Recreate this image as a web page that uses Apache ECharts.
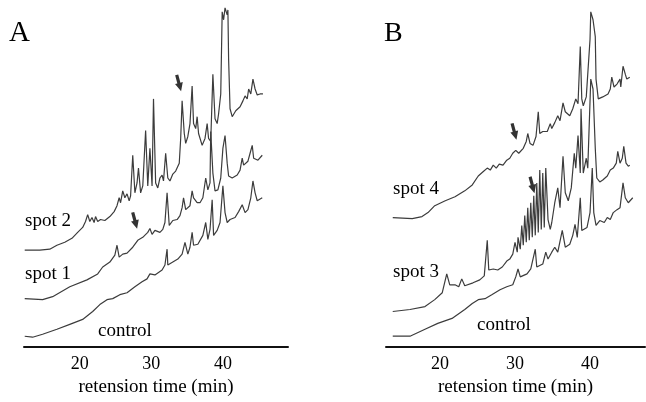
<!DOCTYPE html>
<html lang="en">

<head>
    <meta charset="UTF-8">
    <title>retension time</title>
    <script src="https://cdn.jsdelivr.net/npm/echarts@6/dist/echarts.min.js"></script>
</head>

<body style="margin:0;background:#fff;">
    <div id="main" style="width: 646px;height:402px;"></div>
    <script type="text/javascript">
        // [retention time (min), signal height]
        // panel A
        var spot2A = [[12.3, 98], [14.4, 98], [15.8, 99], [16.8, 103], [17.9, 106], [18.9, 110], [19.7, 116], [20.4, 121], [20.8, 127], [21.1, 134], [21.4, 127], [21.7, 131], [22.0, 126], [22.2, 132], [22.5, 127], [22.9, 129], [23.5, 128], [24.2, 132], [24.8, 137], [25.2, 143], [25.5, 151], [25.7, 146], [26.0, 158], [26.3, 151], [26.6, 155], [26.9, 148], [27.1, 153], [27.4, 194], [27.7, 156], [28.0, 166], [28.2, 181], [28.5, 156], [28.8, 163], [29.2, 219], [29.5, 163], [29.8, 201], [30.1, 163], [30.3, 251], [30.6, 166], [30.9, 161], [31.2, 171], [31.5, 174], [31.7, 168], [32.0, 196], [32.3, 171], [32.6, 168], [33.0, 175], [33.4, 178], [33.9, 186], [34.1, 211], [34.3, 249], [34.6, 216], [34.8, 206], [35.1, 213], [35.4, 226], [35.7, 264], [35.9, 226], [36.2, 221], [36.4, 233], [36.6, 216], [37.1, 204], [37.5, 211], [37.8, 226], [38.0, 211], [38.3, 208], [38.6, 276], [38.9, 231], [39.2, 226], [39.4, 236], [39.7, 256], [39.9, 339], [40.1, 331], [40.3, 343], [40.6, 336], [40.7, 341], [40.8, 291], [41.0, 241], [41.3, 233], [41.8, 239], [42.4, 243], [42.8, 249], [43.1, 254], [43.4, 251], [43.6, 261], [43.9, 256], [44.2, 271], [44.5, 261], [44.8, 255], [45.2, 256], [45.6, 256]];
        var spot1A = [[12.3, 49], [14.8, 48], [16.2, 51], [18.6, 61], [21.0, 68], [22.5, 74], [23.2, 81], [24.2, 86], [24.9, 93], [25.2, 103], [25.5, 91], [26.0, 94], [26.6, 95], [27.4, 101], [28.1, 108], [28.8, 111], [29.5, 116], [29.8, 120], [30.1, 114], [30.5, 118], [31.2, 116], [31.6, 119], [31.9, 126], [32.2, 156], [32.5, 123], [33.0, 128], [33.6, 129], [34.0, 133], [34.3, 141], [34.5, 151], [34.8, 139], [35.4, 143], [35.7, 158], [35.9, 151], [36.4, 146], [36.8, 146], [37.2, 151], [37.6, 171], [37.9, 159], [38.2, 166], [38.3, 218], [38.6, 176], [38.9, 158], [39.3, 159], [39.7, 171], [40.0, 201], [40.3, 214], [40.6, 186], [40.8, 173], [41.3, 171], [42.0, 174], [42.4, 179], [42.7, 191], [42.9, 184], [43.5, 188], [43.8, 196], [44.1, 204], [44.3, 191], [44.9, 189], [45.5, 194]];
        var controlA = [[12.3, 11], [13.4, 10], [14.8, 13], [16.8, 18], [18.6, 23], [20.4, 28], [21.8, 36], [22.8, 43], [23.8, 48], [24.6, 49], [25.6, 53], [26.6, 55], [27.7, 61], [28.7, 66], [29.4, 69], [29.8, 74], [30.5, 73], [31.5, 78], [31.9, 83], [32.2, 99], [32.3, 83], [33.0, 86], [33.7, 89], [34.3, 94], [34.7, 106], [35.1, 94], [35.4, 101], [35.7, 116], [35.9, 103], [36.5, 104], [37.2, 113], [37.6, 126], [37.9, 109], [38.2, 119], [38.5, 149], [38.7, 113], [39.2, 118], [39.6, 126], [40.0, 163], [40.3, 136], [40.6, 126], [41.0, 129], [41.7, 131], [42.2, 137], [42.7, 144], [43.1, 136], [43.5, 139], [43.9, 151], [44.2, 168], [44.5, 156], [44.8, 148], [45.5, 151]];
        // panel B
        var spot4B = [[13.7, 131], [16.3, 130], [17.6, 132], [18.4, 136], [19.3, 143], [20.7, 148], [22.0, 152], [23.3, 158], [24.3, 164], [25.1, 173], [25.7, 177], [26.3, 181], [26.7, 179], [27.1, 184], [27.5, 181], [27.9, 185], [28.4, 184], [28.9, 189], [29.3, 191], [29.7, 196], [30.1, 199], [30.5, 196], [31.1, 201], [31.5, 208], [31.7, 216], [32.0, 206], [32.4, 204], [32.8, 213], [33.1, 238], [33.3, 216], [33.7, 218], [34.3, 218], [34.7, 226], [34.9, 221], [35.3, 227], [35.7, 234], [36.0, 229], [36.4, 247], [36.7, 238], [36.9, 236], [37.3, 234], [37.7, 241], [38.1, 251], [38.4, 246], [38.7, 304], [38.9, 251], [39.1, 244], [39.5, 253], [39.7, 251], [40.0, 311], [40.1, 339], [40.4, 331], [40.7, 314], [40.8, 271], [41.1, 251], [41.7, 253], [42.4, 256], [42.7, 261], [42.9, 273], [43.2, 263], [43.6, 266], [44.0, 271], [44.1, 263], [44.4, 284], [44.7, 276], [44.9, 271], [45.3, 273]];
        var spot3B = [[13.7, 36], [16.0, 38], [18.0, 41], [19.3, 48], [20.3, 55], [20.9, 74], [21.3, 63], [22.0, 63], [22.5, 61], [22.9, 69], [23.3, 62], [24.4, 65], [25.3, 68], [25.9, 72], [26.3, 108], [26.5, 78], [27.1, 79], [27.7, 78], [28.3, 81], [28.9, 87], [29.3, 89], [29.7, 94], [30.0, 106], [30.3, 96], [30.4, 111], [30.7, 99], [30.9, 123], [31.1, 103], [31.3, 133], [31.5, 106], [31.7, 141], [31.9, 108], [32.1, 146], [32.3, 111], [32.5, 153], [32.7, 113], [32.9, 166], [33.1, 116], [33.3, 179], [33.5, 119], [33.7, 176], [33.9, 121], [34.1, 181], [34.4, 129], [34.7, 119], [34.9, 126], [35.3, 146], [35.7, 161], [36.0, 141], [36.4, 193], [36.7, 156], [37.1, 148], [37.5, 161], [37.9, 196], [38.1, 181], [38.4, 214], [38.7, 176], [38.8, 241], [39.1, 176], [39.5, 191], [39.7, 181], [40.1, 271], [40.4, 261], [40.7, 201], [40.9, 171], [41.3, 167], [41.7, 169], [42.3, 173], [42.7, 179], [43.1, 181], [43.5, 186], [43.7, 198], [44.0, 186], [44.3, 191], [44.5, 203], [44.8, 186], [45.1, 183], [45.3, 184]];
        var controlB = [[13.7, 11], [16.0, 11], [18.0, 18], [19.7, 24], [21.6, 29], [23.3, 38], [24.3, 44], [25.1, 48], [26.0, 49], [26.9, 53], [28.0, 58], [28.9, 61], [29.7, 63], [30.1, 71], [30.4, 79], [30.7, 71], [31.6, 74], [32.1, 79], [32.7, 99], [32.9, 81], [33.7, 84], [34.1, 96], [34.4, 89], [34.9, 96], [35.3, 101], [35.7, 96], [36.3, 118], [36.7, 101], [37.3, 104], [37.7, 113], [38.0, 124], [38.3, 111], [38.7, 151], [38.9, 118], [39.6, 121], [40.0, 136], [40.3, 181], [40.5, 136], [40.8, 123], [41.3, 128], [41.9, 126], [42.3, 131], [42.7, 129], [43.1, 136], [43.6, 139], [44.0, 141], [44.4, 166], [44.7, 151], [45.1, 146], [45.7, 151]];
        var tickLabels = [20, 30, 40];
        // arrows marking the spots' extra peaks [time, height]
        var arrowA2 = [33.85, 267];
        var arrowA1 = [27.7, 128];
        var arrowB4 = [29.9, 218];
        var arrowB3 = [32.3, 164];

        var serif = "'Liberation Serif', 'DejaVu Serif', serif";
        // short fat arrow pointing down, with a stem
        var arrowPath = 'path://M3,0 L7,0 L7,10 L10,10 L5,20 L0,10 L3,10 Z';
        var myChart = echarts.init(document.getElementById('main'));

        function xAxisFor(idx, min, max) {
            return {
                type: 'value', gridIndex: idx, min: min, max: max,
                name: 'retension time (min)', nameLocation: 'middle', nameGap: 27,
                nameTextStyle: { fontFamily: serif, fontSize: 19, color: '#000' },
                axisLine: { lineStyle: { color: '#111', width: 2 } },
                axisTick: { show: false },
                splitLine: { show: false },
                axisLabel: { customValues: tickLabels, fontFamily: serif, fontSize: 18, color: '#000', margin: 8 }
            };
        }
        function yAxisFor(idx) {
            return { type: 'value', gridIndex: idx, min: 0, max: 351, show: false, splitLine: { show: false } };
        }
        function trace(name, idx, data, arrow) {
            var s = {
                name: name, type: 'line', xAxisIndex: idx, yAxisIndex: idx,
                data: data, symbol: 'none', animation: false,
                lineStyle: { color: '#3c3c3c', width: 1.2 }
            };
            if (arrow) {
                s.markPoint = {
                    symbol: arrowPath, symbolSize: [8, 17], symbolRotate: 15,
                    itemStyle: { color: '#333' }, label: { show: false },
                    data: [{ coord: arrow }]
                };
            }
            return s;
        }
        function label(text, x, y) {
            return {
                type: 'text', left: x, top: y,
                style: { text: text, font: '19px ' + serif, fill: '#000' }
            };
        }

        var option = {
            backgroundColor: '#fff',
            animation: false,
            grid: [
                { left: 24, right: 358, top: 0, bottom: 51 },
                { left: 386, right: 1, top: 0, bottom: 51 }
            ],
            xAxis: [xAxisFor(0, 12.2, 49.1), xAxisFor(1, 12.8, 47.33)],
            yAxis: [yAxisFor(0), yAxisFor(1)],
            series: [
                trace('spot 2', 0, spot2A, arrowA2),
                trace('spot 1', 0, spot1A, arrowA1),
                trace('control', 0, controlA),
                trace('spot 4', 1, spot4B, arrowB4),
                trace('spot 3', 1, spot3B, arrowB3),
                trace('control', 1, controlB)
            ],
            graphic: [
                { type: 'text', left: 9, top: 19, style: { text: 'A', font: '29px ' + serif, fill: '#000' } },
                { type: 'text', left: 384, top: 20, style: { text: 'B', font: '28px ' + serif, fill: '#000' } },
                label('spot 2', 25, 212),
                label('spot 1', 25, 265),
                label('control', 98, 322),
                label('spot 4', 393, 180),
                label('spot 3', 393, 263),
                label('control', 477, 316)
            ]
        };

        myChart.setOption(option);
    </script>
</body>

</html>
